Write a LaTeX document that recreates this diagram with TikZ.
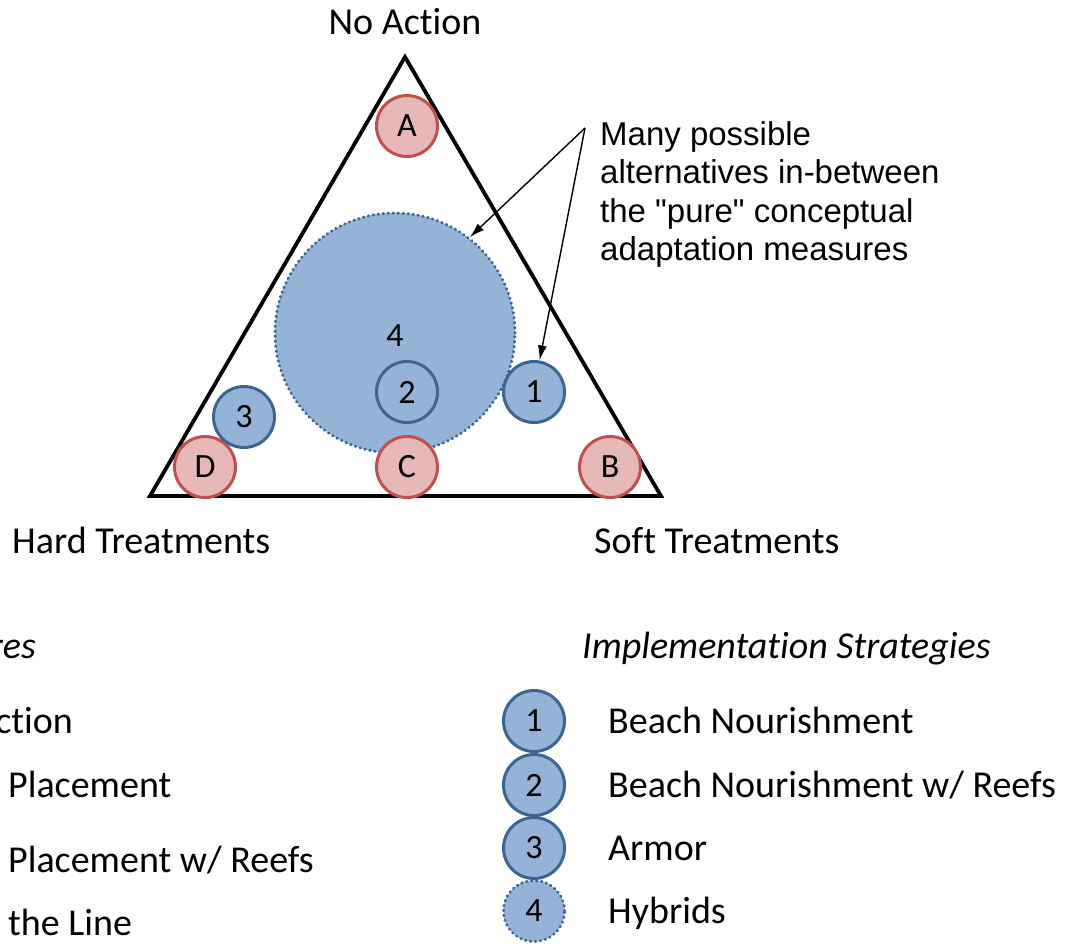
\documentclass[tikz,border=0pt]{standalone}
\usepackage{fontspec}
\setmainfont{Carlito}[Ligatures=NoCommon]
\newfontfamily\arialfont{Liberation Sans}
\usepackage{tikz}
\usetikzlibrary{arrows.meta}

\definecolor{redfill}{HTML}{E6B9B8}
\definecolor{redline}{HTML}{C0504D}
\definecolor{bluefill}{HTML}{95B3D7}
\definecolor{blueline}{HTML}{3D6593}

\begin{document}
\begin{tikzpicture}[x=1pt,y=-1pt,
    measure/.style={circle,draw=redline,fill=redfill,line width=3pt,minimum size=61pt,inner sep=0pt,font=\fontsize{34}{34}\selectfont},
    strategy/.style={circle,draw=blueline,fill=bluefill,line width=3pt,minimum size=61pt,inner sep=0pt,font=\fontsize{34}{34}\selectfont},
    hybrid/.style={strategy,line cap=round,dash pattern=on 0.5pt off 4.5pt},
    txt/.style={inner sep=0pt,font=\fontsize{38}{40}\selectfont},
    pointer/.style={line width=1.4pt,-{Latex[length=15pt,width=9pt]}}]
  \useasboundingbox (0,0) rectangle (1065,943);
  \clip (0,0) rectangle (1065,943);

  % triangle
  \coordinate (top) at (405,57);
  \coordinate (hard) at (150,496);
  \coordinate (soft) at (661,496);
  \draw[line width=3.8pt] (top) -- (soft) -- (hard) -- cycle;

  \node[txt,anchor=base] (noaction) at (405,34) {No Action};
  \node[txt,anchor=base west] (hardlbl) at (12,553) {Hard Treatments};
  \node[txt,anchor=base west] (softlbl) at (594,553) {Soft Treatments};

  % hybrids region
  \node[hybrid,minimum size=240pt] (four) at (395,333) {};
  \node[font=\fontsize{34}{34}\selectfont,inner sep=0pt] (fourlbl) at (395,336) {4};

  % conceptual measures
  \node[measure] (A) at (407,126) {A};
  \node[measure] (B) at (610,467) {B};
  \node[measure] (C) at (407,467) {C};
  \node[measure] (D) at (205,467) {D};

  % strategies
  \node[strategy] (one) at (534,392) {1};
  \node[strategy] (two) at (407,392) {2};
  \node[strategy] (three) at (244,417) {3};

  % note
  \coordinate (fork) at (585,128);
  \node[inner sep=0pt,anchor=north west,align=left,font=\arialfont\fontsize{33}{38.5}\selectfont] (note) at (600,121)
    {Many possible\\alternatives in-between\\the "pure" conceptual\\adaptation measures};
  \draw[pointer] (fork) -- (four.52);
  \draw[pointer] (fork) -- (one.80);

  % legend
  \node[txt,anchor=base east,font=\itshape\fontsize{38}{40}\selectfont] (meashead) at (36,658) {res};
  \node[txt,anchor=base east] (m1) at (73,733) {ction};
  \node[txt,anchor=base west] (m2) at (8,797) {Placement};
  \node[txt,anchor=base west] (m3) at (8,872) {Placement w/ Reefs};
  \node[txt,anchor=base west] (m4) at (8,935) {the Line};

  \node[txt,anchor=base west,font=\itshape\fontsize{38}{40}\selectfont] (strathead) at (582,658) {Implementation Strategies};
  \node[strategy] (k1) at (534,721) {1};
  \node[strategy] (k2) at (534,785) {2};
  \node[strategy] (k3) at (534,848) {3};
  \node[hybrid] (k4) at (534,911) {4};
  \node[txt,anchor=base west] (s1) at (608,733) {Beach Nourishment};
  \node[txt,anchor=base west] (s2) at (608,797) {Beach Nourishment w/ Reefs};
  \node[txt,anchor=base west] (s3) at (608,860) {Armor};
  \node[txt,anchor=base west] (s4) at (608,923) {Hybrids};
\end{tikzpicture}
\end{document}
